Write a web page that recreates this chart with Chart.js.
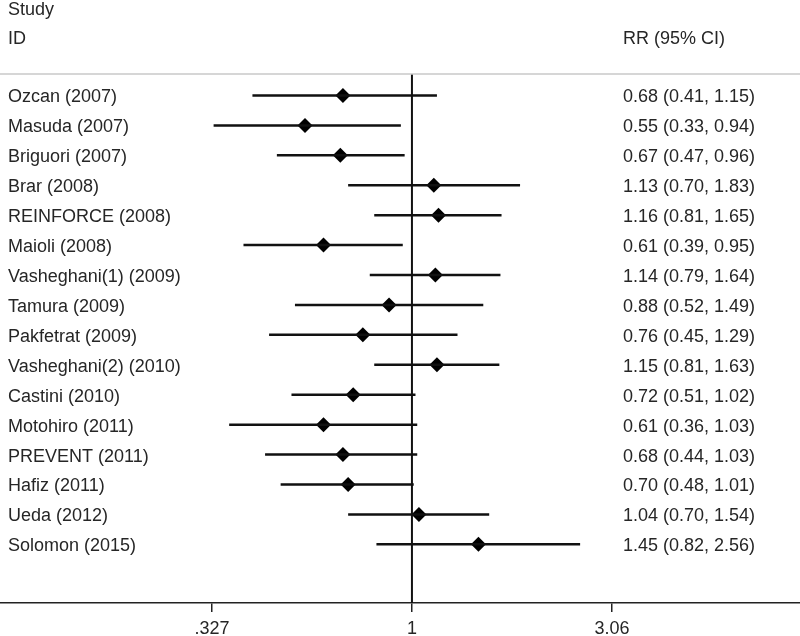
<!DOCTYPE html>
<html>
<head>
<meta charset="utf-8">
<script src="https://cdn.jsdelivr.net/npm/chart.js@4"></script>
<style>
  html, body { margin: 0; padding: 0; background: #fff; }
  #wrap { width: 800px; height: 636px; }
</style>
</head>
<body>
<div id="wrap"><canvas id="forest"></canvas></div>
<script>
const studies = ['Ozcan (2007)', 'Masuda (2007)', 'Briguori (2007)', 'Brar (2008)', 'REINFORCE (2008)',
  'Maioli (2008)', 'Vasheghani(1) (2009)', 'Tamura (2009)', 'Pakfetrat (2009)', 'Vasheghani(2) (2010)',
  'Castini (2010)', 'Motohiro (2011)', 'PREVENT (2011)', 'Hafiz (2011)', 'Ueda (2012)', 'Solomon (2015)'];
const rr    = [0.68, 0.55, 0.67, 1.13, 1.16, 0.61, 1.14, 0.88, 0.76, 1.15, 0.72, 0.61, 0.68, 0.70, 1.04, 1.45];
const lower = [0.41, 0.33, 0.47, 0.70, 0.81, 0.39, 0.79, 0.52, 0.45, 0.81, 0.51, 0.36, 0.44, 0.48, 0.70, 0.82];
const upper = [1.15, 0.94, 0.96, 1.83, 1.65, 0.95, 1.64, 1.49, 1.29, 1.63, 1.02, 1.03, 1.03, 1.01, 1.54, 2.56];
const xTicks = [0.327, 1, 3.06];
const xTickLabels = ['.327', '1', '3.06'];

const FONT = '18px "Liberation Sans", Arial, sans-serif';
const TEXT = '#262626';
const HEADER_Y = -0.72;   // row units, where the grey header rule sits

// CI whiskers as one line with gaps between studies
const ciData = [];
rr.forEach((v, i) => {
  ciData.push({ x: lower[i], y: i }, { x: upper[i], y: i }, { x: upper[i], y: null });
});

const textPlugin = {
  id: 'forestText',
  afterDraw(chart) {
    const ctx = chart.ctx;
    const ys = chart.scales.y;
    const xs = chart.scales.x;
    ctx.save();
    // header rule
    ctx.strokeStyle = '#c8c8c8';
    ctx.lineWidth = 1.5;
    ctx.beginPath();
    ctx.moveTo(xs.left, ys.getPixelForValue(HEADER_Y));
    ctx.lineTo(xs.right, ys.getPixelForValue(HEADER_Y));
    ctx.stroke();

    ctx.font = FONT;
    ctx.fillStyle = TEXT;
    ctx.textBaseline = 'middle';
    ctx.textAlign = 'left';
    const dy = 2;
    ctx.fillText('Study', 8, ys.getPixelForValue(-2.93) + dy);
    ctx.fillText('ID', 8, ys.getPixelForValue(-1.95) + dy);
    ctx.fillText('RR (95% CI)', 623, ys.getPixelForValue(-1.95) + dy);
    studies.forEach((s, i) => {
      const y = ys.getPixelForValue(i) + dy;
      ctx.fillText(s, 8, y);
      const txt = rr[i].toFixed(2) + ' (' + lower[i].toFixed(2) + ', ' + upper[i].toFixed(2) + ')';
      ctx.fillText(txt, 623, y);
    });
    ctx.restore();
  }
};

new Chart(document.getElementById('forest'), {
  type: 'scatter',
  data: {
    datasets: [
      {
        label: 'null',
        data: [{ x: 1, y: HEADER_Y }, { x: 1, y: 17 }],
        showLine: true,
        borderColor: '#111',
        borderWidth: 2,
        pointRadius: 0
      },
      {
        label: 'CI',
        data: ciData,
        showLine: true,
        spanGaps: false,
        borderColor: '#111',
        borderWidth: 2.5,
        pointRadius: 0
      },
      {
        label: 'RR',
        data: rr.map((v, i) => ({ x: v, y: i })),
        pointStyle: 'rectRot',
        pointRadius: 7.5,
        backgroundColor: '#000',
        borderColor: '#000',
        borderWidth: 0
      }
    ]
  },
  options: {
    responsive: true,
    maintainAspectRatio: false,
    animation: false,
    layout: { padding: 0, autoPadding: false },
    plugins: {
      legend: { display: false },
      tooltip: { enabled: false }
    },
    scales: {
      x: {
        type: 'logarithmic',
        min: 0.1,
        max: 8.75,
        afterBuildTicks: (s) => { s.ticks = xTicks.map(v => ({ value: v })); },
        afterFit: (s) => { s.height = 33; },
        ticks: {
          autoSkip: false,
          maxRotation: 0,
          padding: 6,
          color: TEXT,
          font: { family: '"Liberation Sans", Arial, sans-serif', size: 18 },
          callback: (v, i) => xTickLabels[i]
        },
        grid: { drawOnChartArea: false, drawTicks: true, tickLength: 9, color: '#222', lineWidth: 1.5 },
        border: { display: true, color: '#222', width: 1.5 }
      },
      y: {
        type: 'linear',
        display: false,
        reverse: true,
        min: -3.19,
        max: 16.96
      }
    }
  },
  plugins: [textPlugin]
});
</script>
</body>
</html>
